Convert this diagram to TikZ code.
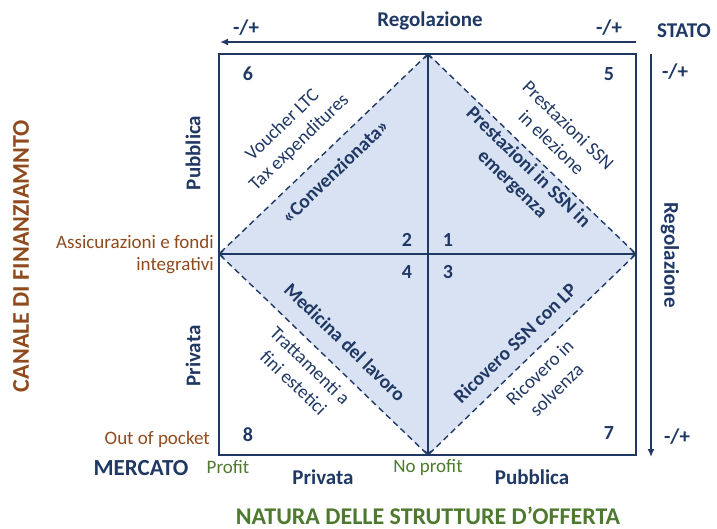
\documentclass[tikz,border=0pt]{standalone}
\usepackage{fontspec}
\setmainfont{Carlito}
\usetikzlibrary{arrows.meta}
\definecolor{navy}{HTML}{1F3864}
\definecolor{rust}{HTML}{8F4A1E}
\definecolor{moss}{HTML}{4E7A2F}
\definecolor{paleblue}{HTML}{D9E2F3}

\begin{document}
\begin{tikzpicture}[x=1pt,y=-1pt,inner sep=0pt,
	lbl/.style={text=navy,font=\fontsize{21}{24}\selectfont\bfseries},
	num/.style={text=navy,font=\fontsize{20}{24}\selectfont\bfseries},
	diag/.style={text=navy,font=\fontsize{19}{24}\selectfont,align=center},
	diagb/.style={text=navy,font=\fontsize{19.5}{23}\selectfont\bfseries,align=center},
	side/.style={text=rust,font=\fontsize{19}{22}\selectfont,align=right},
	note/.style={text=moss,font=\fontsize{19}{22}\selectfont},
	axis/.style={text=#1,font=\fontsize{24}{28}\selectfont\bfseries},
	frame/.style={draw=navy,line width=1.8pt},
	cross/.style={draw=navy,line width=1.5pt,{Straight Barb[length=3pt,width=7pt]}-{Straight Barb[length=3pt,width=7pt]}},
	edge/.style={draw=navy,line width=1.4pt,dash pattern=on 6pt off 4pt},
	reg/.style={draw=navy,line width=2pt,-{Latex[length=8pt,width=7pt]}}]
	\useasboundingbox (0,0) rectangle (717,529);
	% square and its midpoints
	\coordinate (nw) at (219,54);
	\coordinate (ne) at (636,54);
	\coordinate (se) at (636,455);
	\coordinate (sw) at (219,455);
	\coordinate (n) at (428,54);
	\coordinate (e) at (636,254);
	\coordinate (s) at (428,455);
	\coordinate (w) at (219,254);
	\fill[paleblue] (n) -- (e) -- (s) -- (w) -- cycle;
	\draw[edge] (n) -- (e) -- (s) -- (w) -- cycle;
	\draw[frame] (nw) rectangle (se);
	\draw[cross] (n) -- (s);
	\draw[cross] (w) -- (e);
	% regulation axes
	\coordinate (topR) at (636,42);
	\coordinate (topL) at (220,42);
	\coordinate (rightT) at (651,54);
	\coordinate (rightB) at (651,457);
	\draw[reg] (topR) -- (topL);
	\draw[reg] (rightT) -- (rightB);
	\node[lbl] (signTL) at (246,28) {-/+};
	\node[lbl] (regTop) at (430,21) {Regolazione};
	\node[lbl] (signTR) at (609,28) {-/+};
	\node[lbl] (stato) at (684,31) {STATO};
	\node[lbl] (signRT) at (675,72) {-/+};
	\node[lbl,rotate=-90] (regRight) at (670,255) {Regolazione};
	\node[lbl] (signRB) at (677,437) {-/+};
	% quadrant numbers
	\node[num] (q6) at (248,74) {6};
	\node[num] (q5) at (609,74) {5};
	\node[num] (q2) at (407,240) {2};
	\node[num] (q1) at (448,240) {1};
	\node[num] (q4) at (407,272) {4};
	\node[num] (q3) at (448,272) {3};
	\node[num] (q8) at (248,435) {8};
	\node[num] (q7) at (609,433) {7};
	% diagonal texts
	\node[diag,rotate=44] (voucher) at (291,134) {Voucher LTC\\Tax expenditures};
	\node[diagb,rotate=44] (conv) at (335,171) {«Convenzionata»};
	\node[diag,rotate=-44] (elez) at (560,134) {Prestazioni SSN\\in elezione};
	\node[diagb,rotate=-44] (emerg) at (520,176) {Prestazioni in SSN in\\emergenza};
	\node[diagb,rotate=-44] (lavoro) at (345,342) {Medicina del lavoro};
	\node[diag,rotate=-44] (estet) at (302,374) {Trattamenti a\\fini estetici};
	\node[diagb,rotate=44] (ricLP) at (515,343) {Ricovero SSN con LP};
	\node[diag,rotate=44] (solv) at (548,381) {Ricovero in\\solvenza};
	% left side
	\node[axis=rust,rotate=90] (canale) at (21,256) {CANALE DI FINANZIAMNTO};
	\node[lbl,rotate=90] (pubL) at (193,153) {Pubblica};
	\node[lbl,rotate=90] (privL) at (193,356) {Privata};
	\node[side,anchor=east] (assic) at (214,255) {Assicurazioni e fondi\\integrativi};
	\node[side,anchor=east] (pocket) at (210,439) {Out of pocket};
	% bottom side
	\node[axis=navy,font=\fontsize{23}{26}\selectfont\bfseries] (mercato) at (141,468) {MERCATO};
	\node[note] (profit) at (228,467) {Profit};
	\node[lbl] (privB) at (323,477) {Privata};
	\node[note] (noprofit) at (428,467) {No profit};
	\node[lbl] (pubB) at (532,477) {Pubblica};
	\node[axis=moss,anchor=base] (natura) at (428,524) {NATURA DELLE STRUTTURE D’OFFERTA};
\end{tikzpicture}
\end{document}
